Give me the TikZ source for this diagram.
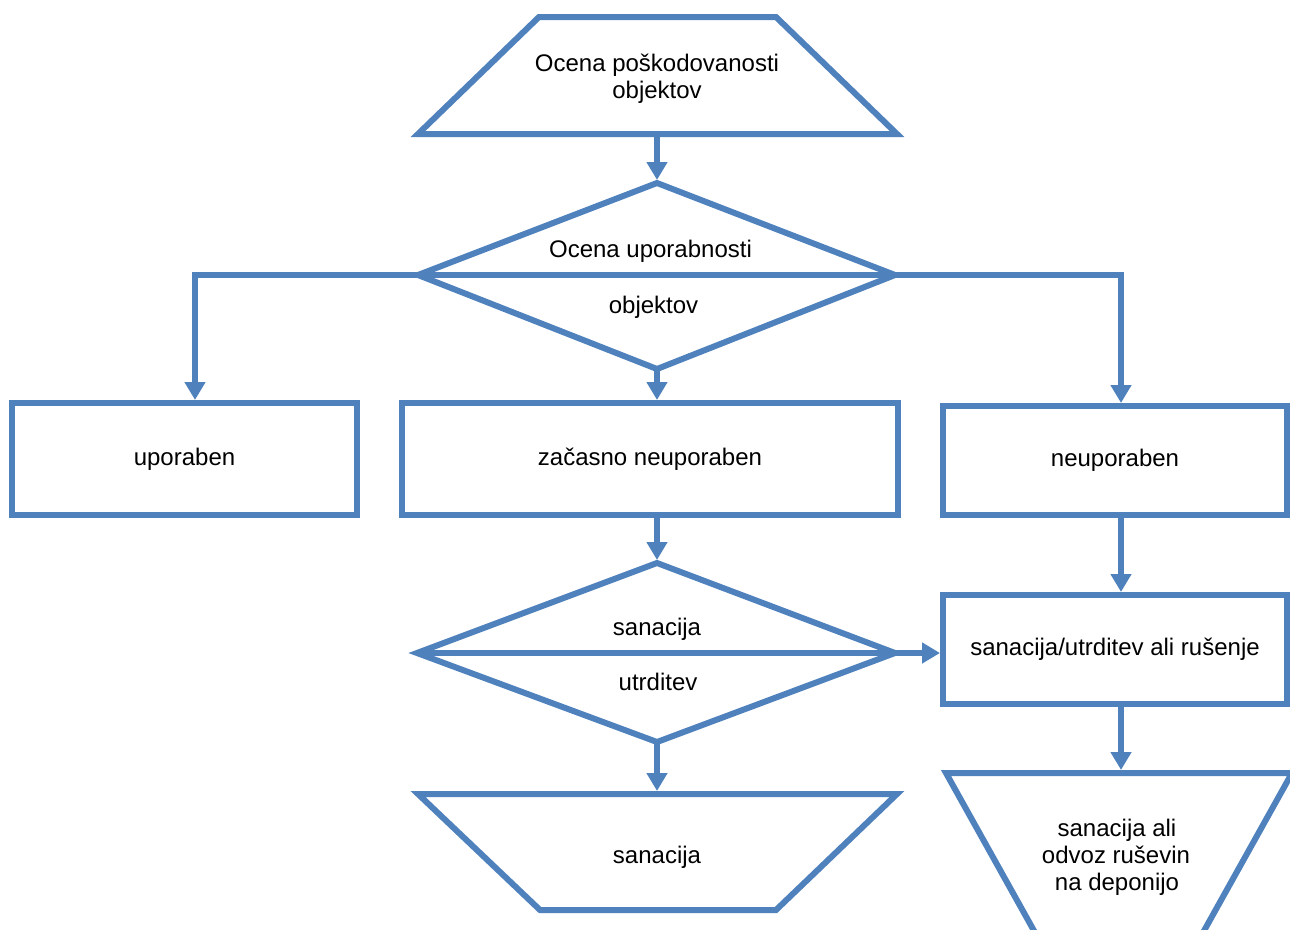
\documentclass[tikz,border=0pt]{standalone}
\usepackage{fontspec}
\setmainfont{Liberation Sans}
\usetikzlibrary{arrows.meta}
\definecolor{fb}{HTML}{4F81BD}
\begin{document}
\begin{tikzpicture}[x=1pt,y=-1pt,
  shp/.style={draw=fb, line width=6pt},
  boxn/.style={draw=fb, line width=6pt, inner sep=0pt, anchor=center, font=\fontsize{24}{27}\selectfont},
  conn/.style={draw=fb, line width=6pt},
  arr/.style={conn, -{Triangle[length=18pt,width=20pt]}},
  lbl/.style={anchor=base, inner sep=0pt, font=\fontsize{24}{27}\selectfont},
]
\useasboundingbox (0,0) rectangle (1290,929);
\begin{scope}
\clip (0,0) rectangle (1290,929);

% top trapezoid
\coordinate (t1tl) at (539,17);
\coordinate (t1tr) at (776,17);
\coordinate (t1br) at (897,134);
\coordinate (t1bl) at (418,134);
\coordinate (t1s) at (657,137);
\draw[shp] (t1tl) -- (t1tr) -- (t1br) -- (t1bl) -- cycle;
\node[lbl] (t1a) at (657,71) {Ocena poškodovanosti};
\node[lbl] (t1b) at (657,98) {objektov};

% diamond 1
\coordinate (d1n) at (657,183);
\coordinate (d1e) at (895,275);
\coordinate (d1s) at (657,369);
\coordinate (d1w) at (418,275);
\coordinate (d1tip) at (657,180);
\draw[shp] (d1n) -- (d1e) -- (d1s) -- (d1w) -- cycle;
\node[lbl] (d1a) at (650.5,257) {Ocena uporabnosti};
\node[lbl] (d1b) at (653.5,313) {objektov};

% boxes row
\node[boxn, minimum width=345pt, minimum height=112pt] (upo) at (184.5,459) {uporaben};
\node[boxn, minimum width=496pt, minimum height=112pt] (zac) at (650,459) {začasno neuporaben};
\node[boxn, minimum width=344pt, minimum height=109pt] (neu) at (1115,460.5) {neuporaben};
\node[boxn, minimum width=344pt, minimum height=109pt] (sut) at (1115,649.5) {sanacija/utrditev ali rušenje};

% diamond 2
\coordinate (d2n) at (657,563);
\coordinate (d2e) at (895,653);
\coordinate (d2s) at (657,742);
\coordinate (d2w) at (417,653);
\coordinate (d2tip) at (657,560);
\draw[shp] (d2n) -- (d2e) -- (d2s) -- (d2w) -- cycle;
\node[lbl] (d2a) at (657,635) {sanacija};
\node[lbl] (d2b) at (658,690) {utrditev};

% bottom trapezoid
\coordinate (t2tl) at (418,794);
\coordinate (t2tr) at (897,794);
\coordinate (t2br) at (776,910);
\coordinate (t2bl) at (540,910);
\coordinate (t2tip) at (657,791);
\draw[shp] (t2tl) -- (t2tr) -- (t2br) -- (t2bl) -- cycle;
\node[lbl] (t2a) at (657,863) {sanacija};

% inverted trapezoid (bottom right)
\coordinate (t3tl) at (946,773);
\coordinate (t3tr) at (1292,773);
\coordinate (t3br) at (1165.4,1000);
\coordinate (t3bl) at (1072.6,1000);
\coordinate (t3tip) at (1121,770);
\draw[shp] (t3tl) -- (t3tr) -- (t3br) -- (t3bl) -- cycle;
\node[lbl] (t3a) at (1117,836) {sanacija ali};
\node[lbl] (t3b) at (1116,863) {odvoz ruševin};
\node[lbl] (t3c) at (1117,890) {na deponijo};

% connectors
\coordinate (lc) at (195,275);
\coordinate (rc) at (1121,275);
\draw[arr] (t1s) -- (d1tip);
\draw[conn] (d1w) -- (d1e);
\draw[arr] (d1w) -- (lc) -- (lc |- upo.north);
\draw[arr] (d1e) -- (rc) -- (rc |- neu.north);
\draw[arr] (d1s) -- (d1s |- zac.north);
\draw[arr] (d2n |- zac.south) -- (d2tip);
\draw[conn] (d2w) -- (d2e);
\draw[arr] (d2e) -- (d2e -| sut.west);
\draw[arr] (d2s) -- (t2tip);
\draw[arr] (rc |- neu.south) -- (rc |- sut.north);
\draw[arr] (rc |- sut.south) -- (t3tip);
\end{scope}
\end{tikzpicture}
\end{document}
